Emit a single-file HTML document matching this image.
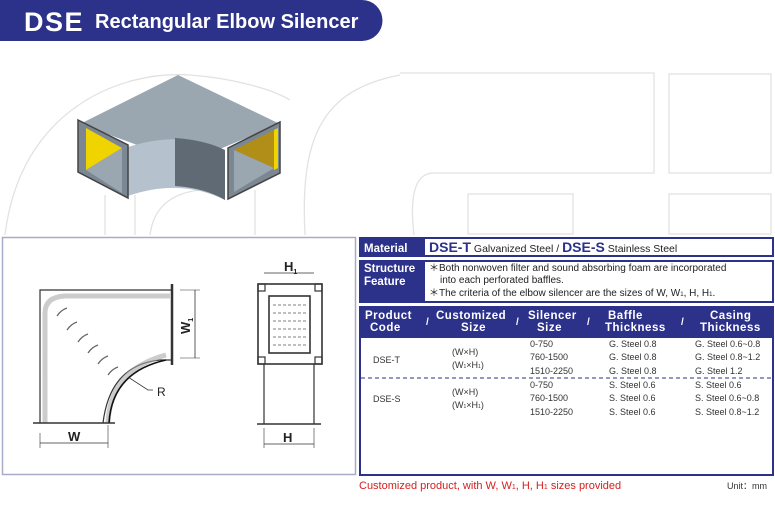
<!DOCTYPE html>
<html><head><meta charset="utf-8"><style>
body{margin:0;width:775px;height:500px;overflow:hidden;background:#fff;font-family:"Liberation Sans",sans-serif}
</style></head><body>
<svg width="775" height="500" xmlns="http://www.w3.org/2000/svg" font-family="Liberation Sans, sans-serif">
<!-- watermark -->
<g fill="none" stroke="#e2e2e2" stroke-width="1.3">
<path d="M5 235 C20 110 120 70 190 75 C230 78 270 88 290 100"/>
<path d="M305 235 C300 140 320 90 400 75"/>
<path d="M400 73 L654 73 L654 173 L432 173 Q407 175 414 235"/>
<rect x="669" y="74" width="102" height="99"/>
<rect x="468" y="194" width="105" height="40"/>
<rect x="669" y="194" width="102" height="40"/>
<path d="M105 235 L105 195 M135 235 L135 195 M255 235 L255 190 M150 235 Q155 195 200 190"/>
</g>
<!-- header -->
<path d="M0 0 H362 A20.5 20.5 0 0 1 362 41 H0 Z" fill="#2c318a"/>
<text x="24" y="31" fill="#fff" font-size="27" font-weight="bold" letter-spacing="1.5">DSE</text>
<text x="95" y="28" fill="#fff" font-size="20" font-weight="bold">Rectangular Elbow Silencer</text>
<!-- 3D elbow -->
<polygon points="80,124 178,75 280,124 186,163" fill="#9aa6b0"/>
<path d="M128 147 Q180 130 225 150 L225 200 Q180 178 128 196 Z" fill="#b5c1cc"/>
<path d="M175 138 Q205 140 225 150 L225 200 Q205 188 175 186Z" fill="#5f6a75"/>
<polygon points="78,120 128,145 128,198 78,172" fill="#7b8893" stroke="#444" stroke-width="1.5"/>
<polygon points="86,128 122,148 86,170" fill="#f0d400"/>
<polygon points="86,170 122,148 122,193" fill="#9aa6b0"/>
<polygon points="228,148 280,122 280,173 228,199" fill="#7b8893" stroke="#444" stroke-width="1.5"/>
<polygon points="234,150 274,130 274,168" fill="#b08e18"/>
<polygon points="274,130 278,128 278,168 274,170" fill="#f0d400"/>
<polygon points="234,150 274,168 234,192" fill="#9aa6b0"/>
<!-- drawing box -->
<rect x="2.5" y="237.5" width="353" height="237" fill="none" stroke="#a9a9c8" stroke-width="1.5"/>
<g stroke="#333" fill="none" stroke-width="1.2">
<path d="M40 423 V290 H172 V360 Q165 360 160 360 Q110 365 103 423"/>
<path d="M45 423 V313 Q45 297 65 296 H170" stroke="#aaa" stroke-width="5" opacity=".6"/>
<path d="M108 423 Q110 370 166 355" stroke="#aaa" stroke-width="5" opacity=".6"/>
<path d="M109 423 Q112 372 166 360" stroke="#111" stroke-width="1.6"/>
<line x1="33" y1="423" x2="115" y2="423" stroke-width="1.5"/>
<line x1="172" y1="284" x2="172" y2="365" stroke-width="2.5"/>
<line x1="40" y1="443" x2="108" y2="443" stroke-width=".8"/>
<line x1="40" y1="433" x2="40" y2="448" stroke-width=".6"/>
<line x1="108" y1="425" x2="108" y2="448" stroke-width=".6"/>
<line x1="195" y1="290" x2="195" y2="358" stroke-width=".8"/>
<line x1="180" y1="290" x2="200" y2="290" stroke-width=".6"/>
<line x1="180" y1="358" x2="200" y2="358" stroke-width=".6"/>
<path d="M128 377 L148 390 H153" stroke-width=".8"/>
<path d="M57 316 q4 -6 10 -8 M67 330 q4 -6 10 -8 M78 342 q4 -6 10 -8 M88 353 q4 -6 10 -8 M98 364 q4 -6 10 -8 M108 375 q4 -6 10 -8" stroke="#666"/>
<!-- side view -->
<rect x="258" y="284" width="64" height="80" stroke-width="1.6"/>
<rect x="269" y="296" width="41" height="57" stroke-width="1.6"/>
<path d="M273 305 h33 M273 313 h33 M273 321 h33 M273 329 h33 M273 337 h33 M273 345 h33" stroke="#999" stroke-dasharray="3 2"/>
<rect x="258" y="284" width="7" height="7"/><rect x="315" y="284" width="7" height="7"/>
<rect x="258" y="357" width="7" height="7"/><rect x="315" y="357" width="7" height="7"/>
<line x1="264" y1="364" x2="264" y2="424"/><line x1="314" y1="364" x2="314" y2="424"/>
<line x1="257" y1="424" x2="321" y2="424" stroke-width="1.5"/>
<line x1="264" y1="273" x2="314" y2="273" stroke-width=".8"/>
<line x1="264" y1="444" x2="314" y2="444" stroke-width=".8"/>
<line x1="264" y1="428" x2="264" y2="448" stroke-width=".6"/><line x1="314" y1="428" x2="314" y2="448" stroke-width=".6"/>
</g>
<g font-weight="bold" font-size="13" fill="#222">
<text x="68" y="441">W</text>
<text x="284" y="271">H<tspan font-size="7" dy="3">1</tspan></text>
<text x="283" y="442">H</text>
<text transform="translate(190 334) rotate(-90)">W<tspan font-size="7" dy="3">1</tspan></text>
</g>
<text x="157" y="396" font-size="12" fill="#222">R</text>
<!-- table -->
<g fill="#2c318a">
<rect x="359" y="237" width="415" height="20"/>
<rect x="359" y="260" width="415" height="43"/>
<rect x="359" y="306" width="415" height="170"/>
</g>
<rect x="425" y="239" width="347" height="16" fill="#fff"/>
<rect x="425" y="262" width="347" height="39" fill="#fff"/>
<rect x="361" y="338" width="411" height="136" fill="#fff"/>
<g fill="#fff" font-weight="bold" font-size="11.5">
<text x="364" y="252">Material</text>
<text x="364" y="272">Structure</text>
<text x="364" y="285">Feature</text>
<text x="365" y="319" letter-spacing=".5">Product</text><text x="370" y="331" letter-spacing=".5">Code</text>
<text x="436" y="319" letter-spacing=".5">Customized</text><text x="461" y="331" letter-spacing=".5">Size</text>
<text x="528" y="319" letter-spacing=".5">Silencer</text><text x="537" y="331" letter-spacing=".5">Size</text>
<text x="608" y="319" letter-spacing=".5">Baffle</text><text x="605" y="331" letter-spacing=".5">Thickness</text>
<text x="710" y="319" letter-spacing=".5">Casing</text><text x="700" y="331" letter-spacing=".5">Thickness</text>
<text x="426" y="325" font-size="10">/</text><text x="516" y="325" font-size="10">/</text><text x="587" y="325" font-size="10">/</text><text x="681" y="325" font-size="10">/</text>
</g>
<text x="429" y="252" font-size="10.5" fill="#222"><tspan font-weight="bold" font-size="14" fill="#2c318a">DSE-T</tspan> Galvanized Steel / <tspan font-weight="bold" font-size="14" fill="#2c318a">DSE-S</tspan> Stainless Steel</text>
<g font-size="10" fill="#222">
<text x="429" y="271">＊Both nonwoven filter and sound absorbing foam are incorporated</text>
<text x="440" y="283">into each perforated baffles.</text>
<text x="429" y="296">＊The criteria of the elbow silencer are the sizes of W, W<tspan font-size="6">1</tspan>, H, H<tspan font-size="6">1</tspan>.</text>
</g>
<g font-size="9" fill="#333">
<text x="373" y="363">DSE-T</text>
<text x="452" y="355">(W×H)</text><text x="452" y="368">(W<tspan font-size="5">1</tspan>×H<tspan font-size="5">1</tspan>)</text>
<text x="530" y="347">0-750</text><text x="530" y="360">760-1500</text><text x="530" y="374">1510-2250</text>
<text x="609" y="347">G. Steel 0.8</text><text x="609" y="360">G. Steel 0.8</text><text x="609" y="374">G. Steel 0.8</text>
<text x="695" y="347">G. Steel 0.6~0.8</text><text x="695" y="360">G. Steel 0.8~1.2</text><text x="695" y="374">G. Steel 1.2</text>
<text x="373" y="402">DSE-S</text>
<text x="452" y="395">(W×H)</text><text x="452" y="408">(W<tspan font-size="5">1</tspan>×H<tspan font-size="5">1</tspan>)</text>
<text x="530" y="388">0-750</text><text x="530" y="401">760-1500</text><text x="530" y="415">1510-2250</text>
<text x="609" y="388">S. Steel 0.6</text><text x="609" y="401">S. Steel 0.6</text><text x="609" y="415">S. Steel 0.6</text>
<text x="695" y="388">S. Steel 0.6</text><text x="695" y="401">S. Steel 0.6~0.8</text><text x="695" y="415">S. Steel 0.8~1.2</text>
</g>
<line x1="361" y1="378" x2="772" y2="378" stroke="#2c318a" stroke-dasharray="4 3"/>
<text x="359" y="489" font-size="11" fill="#d42020">Customized product, with W, W<tspan font-size="7">1</tspan>, H, H<tspan font-size="7">1</tspan> sizes provided</text>
<text x="727" y="489" font-size="9" fill="#333">Unit：mm</text>
</svg>
</body></html>
